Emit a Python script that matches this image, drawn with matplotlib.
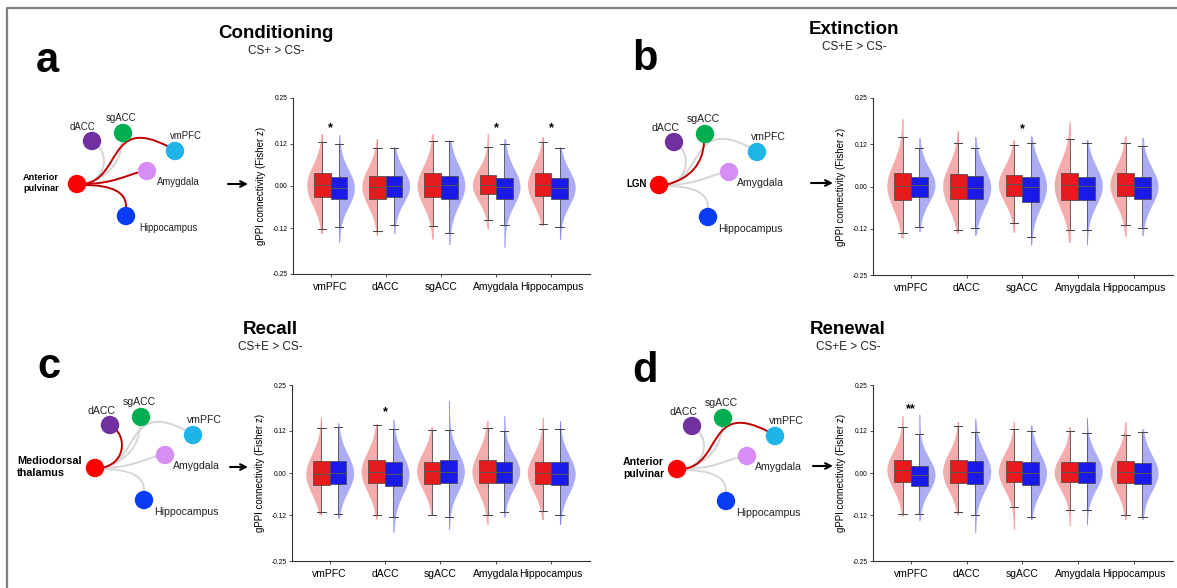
import numpy as np
import matplotlib.pyplot as plt
from matplotlib.path import Path
from matplotlib.patches import PathPatch, Circle, Rectangle

plt.rcParams['font.family'] = ['Liberation Sans', 'DejaVu Sans']

regions = ['vmPFC', 'dACC', 'sgACC', 'Amygdala', 'Hippocampus']
yticks = [-0.25, -0.12, 0.0, 0.12, 0.25]

# per region: (whisker low, q1, median, q3, whisker high, violin min, violin max)
cond_red = [(-0.123, -0.030, 0.002, 0.038, 0.124, -0.134, 0.148),
            (-0.129, -0.036, -0.002, 0.029, 0.107, -0.139, 0.134),
            (-0.114, -0.030, 0.000, 0.036, 0.127, -0.150, 0.148),
            (-0.098, -0.023, 0.003, 0.031, 0.112, -0.121, 0.148),
            (-0.107, -0.029, 0.004, 0.036, 0.124, -0.112, 0.139)]
cond_blue = [(-0.116, -0.038, -0.006, 0.025, 0.119, -0.158, 0.145),
             (-0.110, -0.030, 0.000, 0.027, 0.107, -0.134, 0.110),
             (-0.134, -0.038, 0.002, 0.029, 0.127, -0.166, 0.130),
             (-0.110, -0.038, -0.002, 0.024, 0.118, -0.172, 0.134),
             (-0.116, -0.036, -0.005, 0.024, 0.107, -0.150, 0.110)]
ext_red = [(-0.132, -0.037, 0.002, 0.038, 0.140, -0.145, 0.191),
           (-0.124, -0.036, 0.000, 0.036, 0.124, -0.131, 0.157),
           (-0.104, -0.027, 0.006, 0.033, 0.117, -0.129, 0.131),
           (-0.122, -0.038, 0.003, 0.038, 0.133, -0.157, 0.182),
           (-0.109, -0.027, 0.004, 0.037, 0.124, -0.140, 0.142)]
ext_blue = [(-0.113, -0.031, 0.004, 0.027, 0.108, -0.127, 0.138),
            (-0.118, -0.036, -0.004, 0.029, 0.109, -0.136, 0.140),
            (-0.142, -0.043, 0.000, 0.028, 0.124, -0.164, 0.142),
            (-0.122, -0.038, 0.002, 0.027, 0.122, -0.163, 0.131),
            (-0.116, -0.034, 0.000, 0.028, 0.114, -0.138, 0.138)]
rec_red = [(-0.112, -0.034, -0.003, 0.033, 0.128, -0.118, 0.157),
           (-0.120, -0.029, 0.004, 0.037, 0.137, -0.130, 0.140),
           (-0.120, -0.031, 0.006, 0.031, 0.122, -0.118, 0.131),
           (-0.120, -0.029, 0.004, 0.037, 0.128, -0.145, 0.148),
           (-0.108, -0.032, 0.000, 0.031, 0.126, -0.132, 0.157)]
rec_blue = [(-0.116, -0.031, 0.000, 0.033, 0.131, -0.127, 0.141),
            (-0.125, -0.036, -0.004, 0.030, 0.124, -0.167, 0.151),
            (-0.124, -0.029, 0.004, 0.036, 0.122, -0.158, 0.204),
            (-0.112, -0.027, 0.004, 0.030, 0.120, -0.124, 0.162),
            (-0.120, -0.034, -0.003, 0.030, 0.124, -0.145, 0.148)]
ren_red = [(-0.116, -0.025, 0.008, 0.037, 0.131, -0.123, 0.162),
           (-0.112, -0.028, 0.004, 0.036, 0.133, -0.118, 0.146),
           (-0.096, -0.025, 0.004, 0.035, 0.124, -0.158, 0.144),
           (-0.105, -0.025, 0.002, 0.031, 0.119, -0.149, 0.131),
           (-0.120, -0.029, 0.002, 0.033, 0.108, -0.132, 0.144)]
ren_blue = [(-0.116, -0.036, -0.005, 0.021, 0.110, -0.134, 0.166),
            (-0.118, -0.031, 0.004, 0.033, 0.116, -0.167, 0.153),
            (-0.124, -0.034, 0.000, 0.030, 0.119, -0.132, 0.135),
            (-0.105, -0.029, 0.004, 0.030, 0.113, -0.145, 0.157),
            (-0.124, -0.032, 0.000, 0.028, 0.117, -0.132, 0.126)]

cond_stars = ['*', '', '', '*', '*']
ext_stars = ['', '', '*', '', '']
rec_stars = ['', '*', '', '', '']
ren_stars = ['**', '', '', '', '']
star_y = [0.165, 0.163, 0.173, 0.182]

titles = ['Conditioning', 'Extinction', 'Recall', 'Renewal']
subtitles = ['CS+ > CS-', 'CS+E > CS-', 'CS+E > CS-', 'CS+E > CS-']
letters = ['a', 'b', 'c', 'd']
seeds = ['Anterior\npulvinar', 'LGN', 'Mediodorsal\nthalamus', 'Anterior\npulvinar']
sig_edges = [['vmPFC', 'Amygdala', 'Hippocampus'], ['sgACC'], ['dACC'], ['vmPFC']]

# layout in pixels (figure is 1177 x 588)
W, H = 1177, 588
layout = [
    dict(src=(77, 184), seed_x=23, seed_fs=6.6, lab_fs=6.9, letter=(36, 72),
         title=(276, 33), sub=(276, 51), arrow=(228, 248, 184), ax=(293, 98, 297, 176)),
    dict(src=(659, 185), seed_x=626, seed_fs=7.0, lab_fs=7.6, letter=(632, 70),
         title=(854, 30), sub=(854, 47), arrow=(811, 833, 183), ax=(873, 98, 300, 177)),
    dict(src=(95, 468), seed_x=17, seed_fs=7.8, lab_fs=7.6, letter=(37, 378),
         title=(270, 329), sub=(270, 347), arrow=(230, 248, 467), ax=(292, 385, 298, 176)),
    dict(src=(677, 469), seed_x=623, seed_fs=7.6, lab_fs=7.6, letter=(632, 382),
         title=(848, 329), sub=(848, 347), arrow=(813, 833, 466), ax=(873, 385, 300, 176)),
]
node_col = {'dACC': '#7030a0', 'sgACC': '#00b050', 'vmPFC': '#1fb4e8',
            'Amygdala': '#d68ef4', 'Hippocampus': '#0a3cf5'}
node_off = {'dACC': (15, -43), 'sgACC': (46, -51), 'vmPFC': (98, -33),
            'Amygdala': (70, -13), 'Hippocampus': (49, 32)}
label_off = {'dACC': (-9, -14), 'sgACC': (-2, -15), 'vmPFC': (11, -15),
             'Amygdala': (31, 11), 'Hippocampus': (42, 12)}
edge_ctrl = {'dACC': [(6, 0), (30, -4), (32, -30), (19, -40)],
             'sgACC': [(6, 0), (32, -6), (44, -22), (45, -43)],
             'vmPFC': [(6, 0), (45, -4), (30, -70), (92, -37)],
             'Amygdala': [(6, 0), (35, 0), (50, -9), (63, -12)],
             'Hippocampus': [(6, 1), (35, 1), (50, 8), (49, 24)]}

RED, BLUE = '#e41a1c', '#1a1ae6'

fig = plt.figure(figsize=(W / 100, H / 100), dpi=100)
canvas = fig.add_axes([0, 0, 1, 1])
canvas.set_xlim(0, W)
canvas.set_ylim(H, 0)
canvas.axis('off')

# outer frame
canvas.plot([7, 7, W], [H, 8, 8], color='#808080', lw=1.6, solid_capstyle='butt')


def half_violin(ax, x, s, color, side):
    lo, q1, med, q3, hi, vmin, vmax = s
    y = np.linspace(vmin, vmax, 200)
    sd = (q3 - q1) / 1.2
    w = 0.27 * np.exp(-0.5 * ((y - med) / sd) ** 2) + 0.012
    ax.fill_betweenx(y, x, x + side * w, color=color, alpha=0.36, lw=0, zorder=1)


def box(ax, x, s, color):
    lo, q1, med, q3, hi, vmin, vmax = s
    bw, cw = 0.3, 0.15
    ax.plot([x, x], [lo, hi], color='#555555', lw=0.6, zorder=2)
    ax.plot([x - cw / 2, x + cw / 2], [lo, lo], color='#444444', lw=0.7, zorder=2)
    ax.plot([x - cw / 2, x + cw / 2], [hi, hi], color='#444444', lw=0.7, zorder=2)
    ax.add_patch(Rectangle((x - bw / 2, q1), bw, q3 - q1, facecolor=color,
                           edgecolor='#444444', lw=0.5, zorder=3))
    ax.plot([x - bw / 2, x + bw / 2], [med, med], color='#555555', lw=0.7, zorder=4)


reds = [cond_red, ext_red, rec_red, ren_red]
blues = [cond_blue, ext_blue, rec_blue, ren_blue]
stars = [cond_stars, ext_stars, rec_stars, ren_stars]

for p in range(4):
    L = layout[p]
    sx, sy = L['src']

    # network diagram
    for target in regions:
        if target in sig_edges[p]:
            continue
        pts = [(sx + dx, sy + dy) for dx, dy in edge_ctrl[target]]
        path = Path(pts, [Path.MOVETO, Path.CURVE4, Path.CURVE4, Path.CURVE4])
        canvas.add_patch(PathPatch(path, fc='none', ec='#d6d6d6', lw=1.4, zorder=2))
    for target in sig_edges[p]:
        pts = [(sx + dx, sy + dy) for dx, dy in edge_ctrl[target]]
        path = Path(pts, [Path.MOVETO, Path.CURVE4, Path.CURVE4, Path.CURVE4])
        canvas.add_patch(PathPatch(path, fc='none', ec='#c00000', lw=1.4, zorder=3))
    canvas.add_patch(Circle((sx, sy), 8.5, color='#ff0000', zorder=4))
    for target in regions:
        nx, ny = sx + node_off[target][0], sy + node_off[target][1]
        canvas.add_patch(Circle((nx, ny), 8.5, color=node_col[target], zorder=4))
        canvas.text(nx + label_off[target][0], ny + label_off[target][1], target,
                    fontsize=L['lab_fs'], ha='center', va='center', color='#222222')
    canvas.text(L['seed_x'], sy - 1, seeds[p], fontsize=L['seed_fs'], fontweight='bold',
                ha='left', va='center', linespacing=1.15)

    # titles and letter
    canvas.text(L['title'][0], L['title'][1], titles[p], fontsize=13.5,
                fontweight='bold', ha='center', va='center')
    canvas.text(L['sub'][0], L['sub'][1], subtitles[p], fontsize=8.5,
                ha='center', va='center', color='#222222')
    canvas.text(L['letter'][0], L['letter'][1], letters[p], fontsize=30,
                fontweight='bold', ha='left', va='baseline')
    x0, x1, ay = L['arrow']
    canvas.annotate('', xy=(x1, ay), xytext=(x0, ay),
                    arrowprops=dict(arrowstyle='->', lw=1.5, color='black',
                                    shrinkA=0, shrinkB=0))

    # violin / box plot
    left, top, width, height = L['ax']
    ax = fig.add_axes([left / W, 1 - (top + height) / H, width / W, height / H])
    ax.patch.set_alpha(0)
    xs = np.arange(len(regions))
    for i in xs:
        half_violin(ax, i - 0.15, reds[p][i], RED, -1)
        half_violin(ax, i + 0.15, blues[p][i], BLUE, 1)
        ax.plot([i - 0.15, i - 0.15], reds[p][i][5:], color=RED, alpha=0.25, lw=0.8, zorder=1)
        ax.plot([i + 0.15, i + 0.15], blues[p][i][5:], color=BLUE, alpha=0.25, lw=0.8, zorder=1)
        box(ax, i - 0.15, reds[p][i], RED)
        box(ax, i + 0.15, blues[p][i], BLUE)
        if stars[p][i]:
            ax.text(i, star_y[p], stars[p][i], ha='center', va='center',
                    fontsize=9, fontweight='bold')
    ax.set_xlim(-0.68, 4.7)
    ax.set_ylim(-0.25, 0.25)
    ax.set_xticks(xs)
    ax.set_xticklabels(regions, fontsize=7.5)
    ax.set_yticks(yticks)
    ax.set_yticklabels(['%.2f' % v for v in yticks], fontsize=4.8)
    ax.tick_params(length=2.5, width=0.6, color='#333333', pad=1.5)
    ax.tick_params(axis='x', pad=3)
    ax.set_ylabel('gPPI connectivity (Fisher z)', fontsize=7)
    ax.yaxis.set_label_coords(-0.09, 0.5)
    for side in ['top', 'right']:
        ax.spines[side].set_visible(False)
    for side in ['left', 'bottom']:
        ax.spines[side].set_color('#333333')
        ax.spines[side].set_linewidth(0.8)

fig.savefig('out.png', dpi=100)
